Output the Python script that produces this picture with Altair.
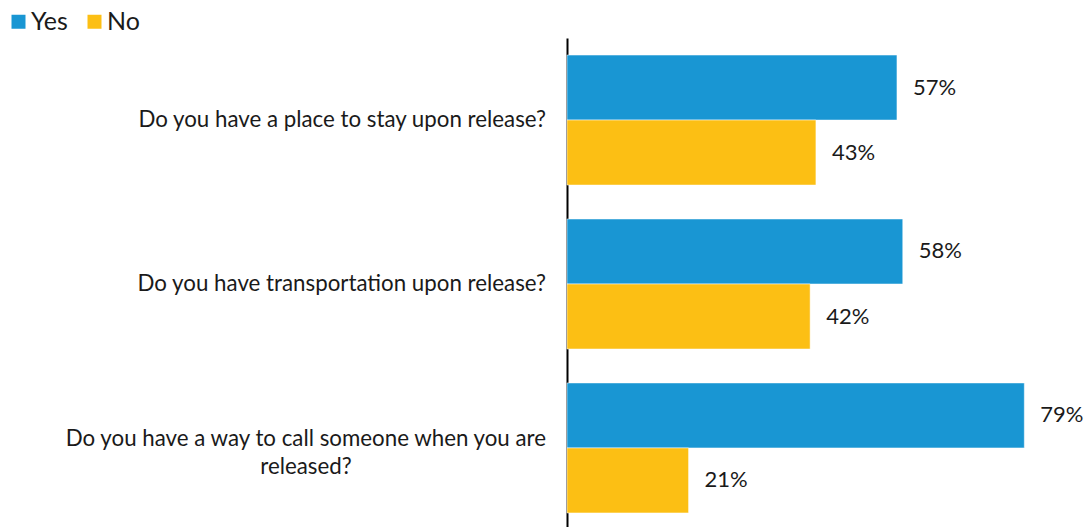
import altair as alt
import pandas as pd

questions = [
    "Do you have a place to stay upon release?",
    "Do you have transportation upon release?",
    "Do you have a way to call someone when you are released?",
]
question_lines = [
    ["Do you have a place to stay upon release?"],
    ["Do you have transportation upon release?"],
    ["Do you have a way to call someone when you are", "released?"],
]
answers = ["Yes", "No"]
yes_values = [57, 58, 79]
no_values = [43, 42, 21]
colors = ["#1996D3", "#FCBF14"]

rows = []
for q, y, n in zip(questions, yes_values, no_values):
    rows.append({"question": q, "answer": "Yes", "value": y})
    rows.append({"question": q, "answer": "No", "value": n})
df = pd.DataFrame(rows)
df["label"] = df["value"].astype(str) + "%"

lab_rows = []
for q, lines in zip(questions, question_lines):
    for i, line in enumerate(lines):
        lab_rows.append({"question": q, "line": line, "idx": i, "nlines": len(lines)})
lab_df = pd.DataFrame(lab_rows)

FONT = "Lato"
TXT = "#1a1a1a"
LFS = 22.3

y_enc = alt.Y(
    "question:N",
    sort=questions,
    scale=alt.Scale(paddingInner=0.207, paddingOuter=0.104),
    axis=alt.Axis(
        title=None,
        ticks=False,
        labels=False,
        domainColor="#000000",
        domainWidth=2,
        grid=False,
    ),
)
yoff = alt.YOffset("answer:N", sort=answers, scale=alt.Scale(paddingInner=0, paddingOuter=0))

base = alt.Chart(df)

bars = base.mark_bar(stroke="white", strokeWidth=0.5).encode(
    y=y_enc,
    yOffset=yoff,
    x=alt.X("value:Q", scale=alt.Scale(domain=[0, 90]), axis=None),
    color=alt.Color(
        "answer:N",
        sort=answers,
        scale=alt.Scale(domain=answers, range=colors),
        legend=alt.Legend(
            title=None,
            orient="none",
            legendX=-561,
            legendY=-29,
            direction="horizontal",
            symbolType="square",
            symbolSize=196,
            symbolStrokeWidth=0,
            labelFont=FONT,
            labelFontSize=25,
            labelColor=TXT,
            columnPadding=14,
            labelOffset=0,
        ),
    ),
)

texts = base.mark_text(
    align="left", baseline="middle", dx=16, font=FONT, fontSize=22, color=TXT
).encode(
    y=alt.Y("question:N", sort=questions),
    yOffset=alt.YOffset("answer:N", sort=answers),
    x=alt.X("value:Q", axis=None),
    text="label:N",
)

lab_base = alt.Chart(lab_df)
single = lab_base.transform_filter("datum.nlines == 1").mark_text(
    align="right", baseline="middle", font=FONT, fontSize=LFS, color=TXT
).encode(
    y=alt.Y("question:N", sort=questions),
    x=alt.value(-21),
    text="line:N",
)
multi_first = lab_base.transform_filter("datum.nlines == 2 && datum.idx == 0").mark_text(
    align="right", baseline="middle", dy=-9, font=FONT, fontSize=LFS, color=TXT
).encode(
    y=alt.Y("question:N", sort=questions),
    x=alt.value(-21),
    text="line:N",
)
multi_second = lab_base.transform_filter("datum.nlines == 2 && datum.idx == 1").mark_text(
    align="center", baseline="middle", dy=19, font=FONT, fontSize=LFS, color=TXT
).encode(
    y=alt.Y("question:N", sort=questions),
    x=alt.value(-261),
    text="line:N",
)

chart = (
    alt.layer(bars, texts, single, multi_first, multi_second)
    .properties(
        width=521,
        height=492,
        background="white",
        autosize=alt.AutoSizeParams(type="none"),
        padding={"left": 567, "top": 38, "right": 2, "bottom": 0},
    )
    .configure_view(strokeWidth=0, stroke="transparent")
)

chart.save("out.html", embed_options={"renderer": "svg", "actions": False})
